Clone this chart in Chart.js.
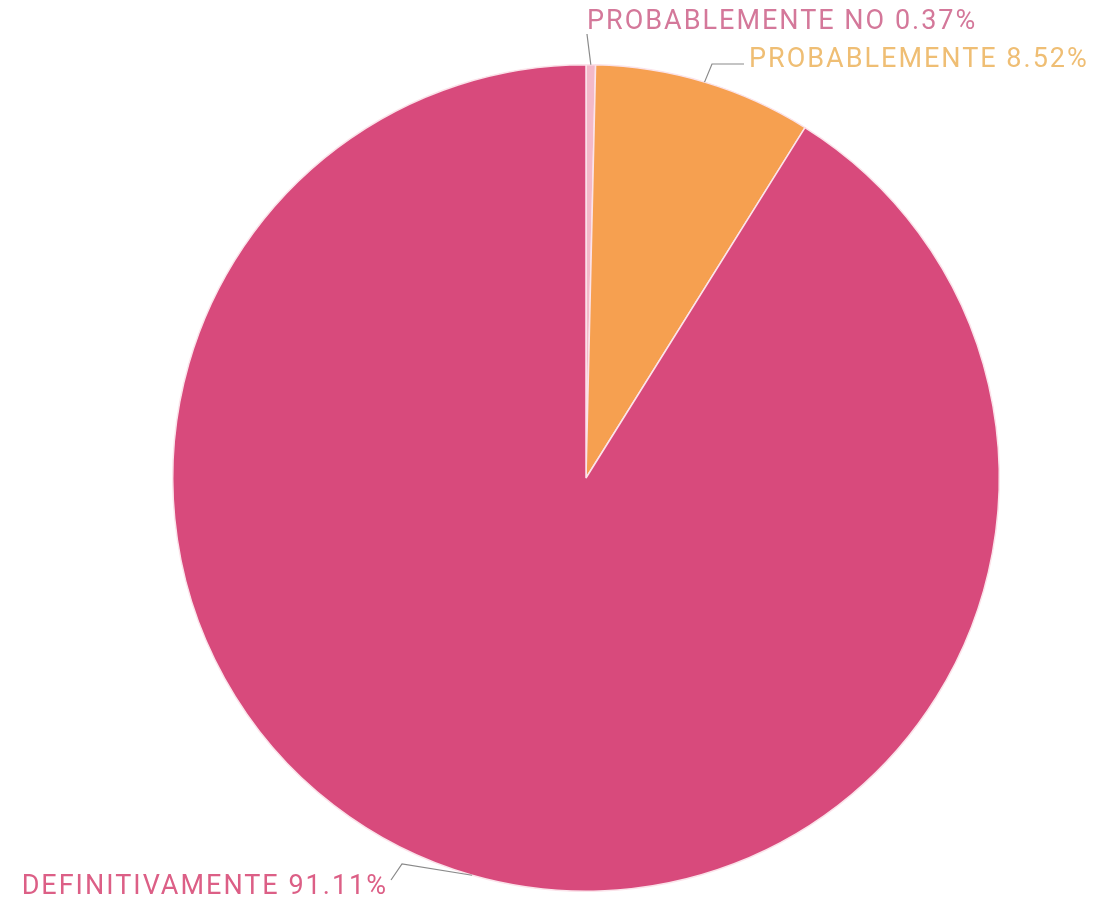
<!DOCTYPE html>
<html>
<head>
<meta charset="utf-8">
<script src="https://cdn.jsdelivr.net/npm/chart.js@4/dist/chart.umd.min.js"></script>
<style>
  html, body { margin: 0; padding: 0; background: #ffffff; }
  #wrap { width: 1108px; height: 907px; position: relative; }
</style>
</head>
<body>
<div id="wrap"><canvas id="c" width="1108" height="907"></canvas></div>
<script>
const categories = ['PROBABLEMENTE NO', 'PROBABLEMENTE', 'DEFINITIVAMENTE'];
const percentages = [0.37, 8.52, 91.11];
const sliceColors = ['#f3b9c9', '#f6a050', '#d84a7c'];
const labelColors = ['#d4789a', '#efbe74', '#dc5f86'];

// label layout (text anchor + elbow of leader line), kept separate from data
const labelLayout = [
  { tx: 587, ty: 22, align: 'left',  elbow: [587, 34], end: [587, 34] },
  { tx: 749, ty: 60, align: 'left',  elbow: [712, 64], end: [744, 64] },
  { tx: 388, ty: 887, align: 'right', elbow: [402, 864], end: [391, 880] }
];

const labelPlugin = {
  id: 'pieLabels',
  afterDatasetsDraw(chart) {
    const ctx = chart.ctx;
    const meta = chart.getDatasetMeta(0);
    ctx.save();
    ctx.font = '400 27px Roboto, "Noto Sans", sans-serif';
    ctx.textBaseline = 'middle';
    if ('letterSpacing' in ctx) ctx.letterSpacing = '2px';
    meta.data.forEach((arc, i) => {
      const p = arc.getProps(['x', 'y', 'startAngle', 'endAngle', 'outerRadius'], true);
      const mid = (p.startAngle + p.endAngle) / 2;
      const ax = p.x + Math.cos(mid) * p.outerRadius;
      const ay = p.y + Math.sin(mid) * p.outerRadius;
      const L = labelLayout[i];
      ctx.strokeStyle = '#8a8a8a';
      ctx.lineWidth = 1.2;
      ctx.beginPath();
      ctx.moveTo(ax, ay);
      ctx.lineTo(L.elbow[0], L.elbow[1]);
      ctx.lineTo(L.end[0], L.end[1]);
      ctx.stroke();
      ctx.fillStyle = labelColors[i];
      ctx.textAlign = L.align;
      ctx.fillText(categories[i] + ' ' + percentages[i].toFixed(2) + '%', L.tx, L.ty);
    });
    ctx.restore();
  }
};

new Chart(document.getElementById('c'), {
  type: 'pie',
  data: {
    labels: categories,
    datasets: [{
      data: percentages,
      backgroundColor: sliceColors,
      borderColor: '#fbe3ea',
      borderWidth: 1.5
    }]
  },
  options: {
    responsive: false,
    animation: false,
    layout: { padding: { top: 64, bottom: 15, left: 172, right: 108 } },
    plugins: {
      legend: { display: false },
      tooltip: { enabled: false }
    }
  },
  plugins: [labelPlugin]
});
</script>
</body>
</html>
